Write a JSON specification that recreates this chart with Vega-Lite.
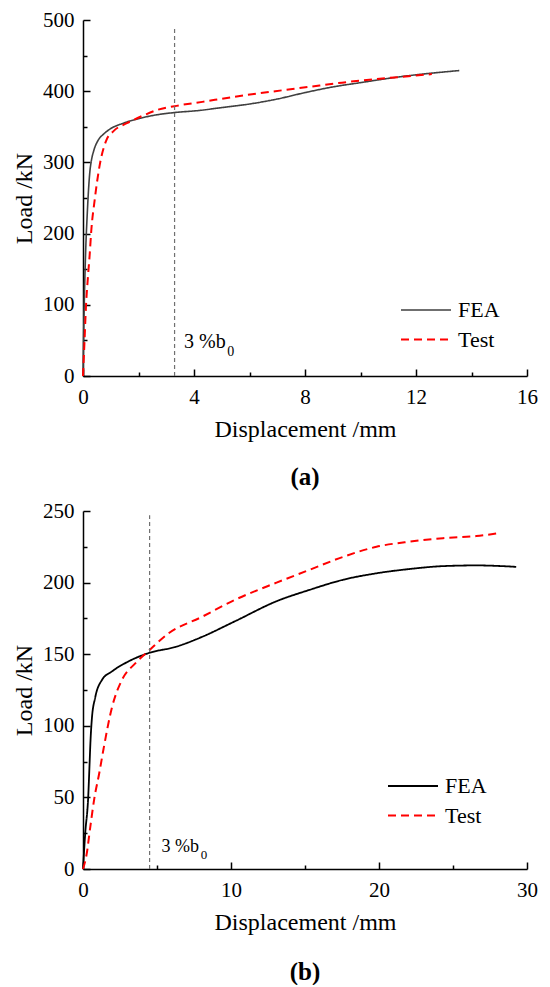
{
  "$schema": "https://vega.github.io/schema/vega-lite/v6.json",
  "padding": {"left": 12, "top": 9, "right": 5, "bottom": 0},
  "background": "white",
  "datasets": {
    "curvesA": [
      {"series": "FEA", "x": 0, "y": 0},
      {"series": "FEA", "x": 0.02, "y": 50},
      {"series": "FEA", "x": 0.05, "y": 110},
      {"series": "FEA", "x": 0.1, "y": 180},
      {"series": "FEA", "x": 0.15, "y": 225},
      {"series": "FEA", "x": 0.2, "y": 262},
      {"series": "FEA", "x": 0.25, "y": 288},
      {"series": "FEA", "x": 0.3, "y": 302},
      {"series": "FEA", "x": 0.4, "y": 318},
      {"series": "FEA", "x": 0.56, "y": 332},
      {"series": "FEA", "x": 0.75, "y": 340},
      {"series": "FEA", "x": 0.98, "y": 347},
      {"series": "FEA", "x": 1.45, "y": 355},
      {"series": "FEA", "x": 2.06, "y": 362},
      {"series": "FEA", "x": 2.68, "y": 367},
      {"series": "FEA", "x": 3.3, "y": 370},
      {"series": "FEA", "x": 4.2, "y": 373},
      {"series": "FEA", "x": 5, "y": 377},
      {"series": "FEA", "x": 6, "y": 382},
      {"series": "FEA", "x": 7, "y": 389},
      {"series": "FEA", "x": 8, "y": 398},
      {"series": "FEA", "x": 9, "y": 406},
      {"series": "FEA", "x": 10, "y": 412},
      {"series": "FEA", "x": 11, "y": 418},
      {"series": "FEA", "x": 12, "y": 423},
      {"series": "FEA", "x": 13, "y": 427},
      {"series": "FEA", "x": 13.56, "y": 429},
      {"series": "Test", "x": 0, "y": 0},
      {"series": "Test", "x": 0.05, "y": 45},
      {"series": "Test", "x": 0.11, "y": 100},
      {"series": "Test", "x": 0.18, "y": 140},
      {"series": "Test", "x": 0.24, "y": 170},
      {"series": "Test", "x": 0.3, "y": 205},
      {"series": "Test", "x": 0.42, "y": 247},
      {"series": "Test", "x": 0.62, "y": 300},
      {"series": "Test", "x": 0.84, "y": 331},
      {"series": "Test", "x": 1.1, "y": 344},
      {"series": "Test", "x": 1.58, "y": 355},
      {"series": "Test", "x": 2.18, "y": 366},
      {"series": "Test", "x": 2.7, "y": 374},
      {"series": "Test", "x": 3.3, "y": 379},
      {"series": "Test", "x": 4.3, "y": 385},
      {"series": "Test", "x": 5.43, "y": 392},
      {"series": "Test", "x": 6.93, "y": 400},
      {"series": "Test", "x": 8.13, "y": 406},
      {"series": "Test", "x": 9.33, "y": 412},
      {"series": "Test", "x": 10.53, "y": 417},
      {"series": "Test", "x": 11.73, "y": 421},
      {"series": "Test", "x": 12.57, "y": 424}
    ],
    "curvesB": [
      {"series": "FEA", "x": 0, "y": 0},
      {"series": "FEA", "x": 0.15, "y": 25},
      {"series": "FEA", "x": 0.35, "y": 50},
      {"series": "FEA", "x": 0.45, "y": 75},
      {"series": "FEA", "x": 0.5, "y": 88},
      {"series": "FEA", "x": 0.6, "y": 105},
      {"series": "FEA", "x": 0.83, "y": 120},
      {"series": "FEA", "x": 1.28, "y": 132},
      {"series": "FEA", "x": 1.96, "y": 138},
      {"series": "FEA", "x": 3.08, "y": 145},
      {"series": "FEA", "x": 4.5, "y": 151},
      {"series": "FEA", "x": 6.22, "y": 155},
      {"series": "FEA", "x": 8.02, "y": 162},
      {"series": "FEA", "x": 10.27, "y": 173},
      {"series": "FEA", "x": 13.08, "y": 187},
      {"series": "FEA", "x": 15.33, "y": 195},
      {"series": "FEA", "x": 17.58, "y": 202},
      {"series": "FEA", "x": 19.83, "y": 206.5},
      {"series": "FEA", "x": 22.07, "y": 209.5},
      {"series": "FEA", "x": 24.32, "y": 211.5},
      {"series": "FEA", "x": 26.57, "y": 212},
      {"series": "FEA", "x": 29.27, "y": 211},
      {"series": "Test", "x": 0, "y": 0},
      {"series": "Test", "x": 0.24, "y": 10},
      {"series": "Test", "x": 0.5, "y": 30},
      {"series": "Test", "x": 0.76, "y": 49},
      {"series": "Test", "x": 1.1, "y": 67},
      {"series": "Test", "x": 1.39, "y": 84},
      {"series": "Test", "x": 1.96, "y": 113},
      {"series": "Test", "x": 2.63, "y": 132},
      {"series": "Test", "x": 3.53, "y": 143.6},
      {"series": "Test", "x": 4.5, "y": 153},
      {"series": "Test", "x": 5.78, "y": 164.6},
      {"series": "Test", "x": 8.02, "y": 176},
      {"series": "Test", "x": 10.27, "y": 188},
      {"series": "Test", "x": 13.08, "y": 200},
      {"series": "Test", "x": 15.33, "y": 209},
      {"series": "Test", "x": 17.58, "y": 218},
      {"series": "Test", "x": 19.83, "y": 225},
      {"series": "Test", "x": 22.07, "y": 228.6},
      {"series": "Test", "x": 24.32, "y": 231},
      {"series": "Test", "x": 26.57, "y": 232.5},
      {"series": "Test", "x": 28.03, "y": 234.4}
    ],
    "limitA": [{"x": 3.3, "y": 0, "y2": 490}],
    "limitB": [{"x": 4.5, "y": 0, "y2": 247}],
    "noteA": [
      {"x": 3.64, "y": 48, "label": "3 %b", "size": "main"},
      {"x": 5.2, "y": 34, "label": "0", "size": "sub"}
    ],
    "noteB": [
      {"x": 5.3, "y": 15.7, "label": "3 %b", "size": "main"},
      {"x": 7.95, "y": 10, "label": "0", "size": "sub"}
    ]
  },
  "vconcat": [
    {
      "width": 444,
      "height": 356,
      "title": {"text": "(a)", "orient": "bottom", "offset": 24},
      "layer": [
        {
          "data": {"name": "curvesA"},
          "mark": {"type": "line", "interpolate": "monotone"},
          "encoding": {
            "x": {
              "field": "x", "type": "quantitative",
              "scale": {"domain": [0, 16], "nice": false, "zero": false},
              "axis": {"values": [0, 4, 8, 12, 16], "title": "Displacement /mm", "orient": "bottom"}
            },
            "y": {
              "field": "y", "type": "quantitative",
              "scale": {"domain": [0, 500], "nice": false},
              "axis": {"values": [0, 100, 200, 300, 400, 500], "title": "Load /kN", "orient": "left"}
            },
            "color": {
              "field": "series", "type": "nominal",
              "scale": {"domain": ["FEA", "Test"], "range": ["#404040", "#ff0000"]},
              "legend": {"title": null, "orient": "none", "legendX": 317, "legendY": 279}
            },
            "strokeDash": {
              "field": "series", "type": "nominal",
              "scale": {"domain": ["FEA", "Test"], "range": [[1, 0], [8, 5]]},
              "legend": {"title": null, "orient": "none", "legendX": 317, "legendY": 279}
            },
            "strokeWidth": {
              "field": "series", "type": "nominal",
              "scale": {"domain": ["FEA", "Test"], "range": [1.6, 2]},
              "legend": null
            }
          }
        },
        {
          "data": {"name": "limitA"},
          "mark": {"type": "rule", "color": "#707070", "strokeDash": [4, 3], "strokeWidth": 1.2},
          "encoding": {
            "x": {
              "field": "x", "type": "quantitative",
              "axis": {"values": [2, 6, 10, 14], "labels": false, "domain": false, "tickSize": -4, "title": null, "orient": "bottom"}
            },
            "y": {
              "field": "y", "type": "quantitative",
              "axis": {"values": [50, 150, 250, 350, 450], "labels": false, "domain": false, "tickSize": -4, "title": null, "orient": "left"}
            },
            "y2": {"field": "y2"}
          }
        },
        {
          "data": {"name": "noteA"},
          "mark": {"type": "text", "align": "left", "baseline": "middle", "font": "Liberation Serif", "color": "black"},
          "encoding": {
            "x": {"field": "x", "type": "quantitative", "axis": null},
            "y": {"field": "y", "type": "quantitative", "axis": null},
            "text": {"field": "label"},
            "size": {"field": "size", "type": "nominal", "scale": {"domain": ["main", "sub"], "range": [20, 14]}, "legend": null}
          }
        }
      ],
      "resolve": {"axis": {"x": "independent", "y": "independent"}}
    },
    {
      "width": 444,
      "height": 358,
      "title": {"text": "(b)", "orient": "bottom", "offset": 26},
      "layer": [
        {
          "data": {"name": "curvesB"},
          "mark": {"type": "line", "interpolate": "monotone"},
          "encoding": {
            "x": {
              "field": "x", "type": "quantitative",
              "scale": {"domain": [0, 30], "nice": false, "zero": false},
              "axis": {"values": [0, 10, 20, 30], "title": "Displacement /mm", "orient": "bottom"}
            },
            "y": {
              "field": "y", "type": "quantitative",
              "scale": {"domain": [0, 250], "nice": false},
              "axis": {"values": [0, 50, 100, 150, 200, 250], "title": "Load /kN", "orient": "left"}
            },
            "color": {
              "field": "series", "type": "nominal",
              "scale": {"domain": ["FEA", "Test"], "range": ["#000000", "#ff0000"]},
              "legend": {"title": null, "orient": "none", "legendX": 304, "legendY": 264}
            },
            "strokeDash": {
              "field": "series", "type": "nominal",
              "scale": {"domain": ["FEA", "Test"], "range": [[1, 0], [8, 5]]},
              "legend": {"title": null, "orient": "none", "legendX": 304, "legendY": 264}
            },
            "strokeWidth": {
              "field": "series", "type": "nominal",
              "scale": {"domain": ["FEA", "Test"], "range": [1.8, 2]},
              "legend": null
            }
          }
        },
        {
          "data": {"name": "limitB"},
          "mark": {"type": "rule", "color": "#707070", "strokeDash": [4, 3], "strokeWidth": 1.2},
          "encoding": {
            "x": {
              "field": "x", "type": "quantitative",
              "axis": {"values": [5, 15, 25], "labels": false, "domain": false, "tickSize": -4, "title": null, "orient": "bottom"}
            },
            "y": {
              "field": "y", "type": "quantitative",
              "axis": {"values": [25, 75, 125, 175, 225], "labels": false, "domain": false, "tickSize": -4, "title": null, "orient": "left"}
            },
            "y2": {"field": "y2"}
          }
        },
        {
          "data": {"name": "noteB"},
          "mark": {"type": "text", "align": "left", "baseline": "middle", "font": "Liberation Serif", "color": "black"},
          "encoding": {
            "x": {"field": "x", "type": "quantitative", "axis": null},
            "y": {"field": "y", "type": "quantitative", "axis": null},
            "text": {"field": "label"},
            "size": {"field": "size", "type": "nominal", "scale": {"domain": ["main", "sub"], "range": [18, 13]}, "legend": null}
          }
        }
      ],
      "resolve": {"axis": {"x": "independent", "y": "independent"}}
    }
  ],
  "spacing": 10,
  "resolve": {
    "scale": {"x": "independent", "y": "independent", "color": "independent", "strokeDash": "independent", "strokeWidth": "independent", "size": "independent"},
    "legend": {"color": "independent", "strokeDash": "independent"}
  },
  "config": {
    "font": "Liberation Serif",
    "view": {"stroke": null},
    "axis": {
      "grid": false,
      "labelFont": "Liberation Serif",
      "labelFontSize": 21,
      "labelColor": "black",
      "labelFlush": false,
      "labelOverlap": false,
      "titleFont": "Liberation Serif",
      "titleFontSize": 24,
      "titleFontWeight": "normal",
      "titleColor": "black",
      "domainColor": "black",
      "domainWidth": 1.5,
      "tickColor": "black",
      "tickWidth": 1.5,
      "tickSize": -7
    },
    "axisX": {"labelPadding": 17, "titlePadding": 10},
    "axisY": {"labelPadding": 16, "titlePadding": 6},
    "legend": {
      "labelFont": "Liberation Serif",
      "labelFontSize": 22,
      "labelColor": "black",
      "symbolType": "stroke",
      "symbolSize": 2500,
      "symbolStrokeWidth": 1.8,
      "padding": 0,
      "labelOffset": 6,
      "rowPadding": 7.5,
      "clipHeight": 22
    },
    "title": {
      "font": "Liberation Serif",
      "fontSize": 25,
      "fontWeight": "bold",
      "color": "black",
      "anchor": "middle",
      "frame": "group"
    }
  }
}
